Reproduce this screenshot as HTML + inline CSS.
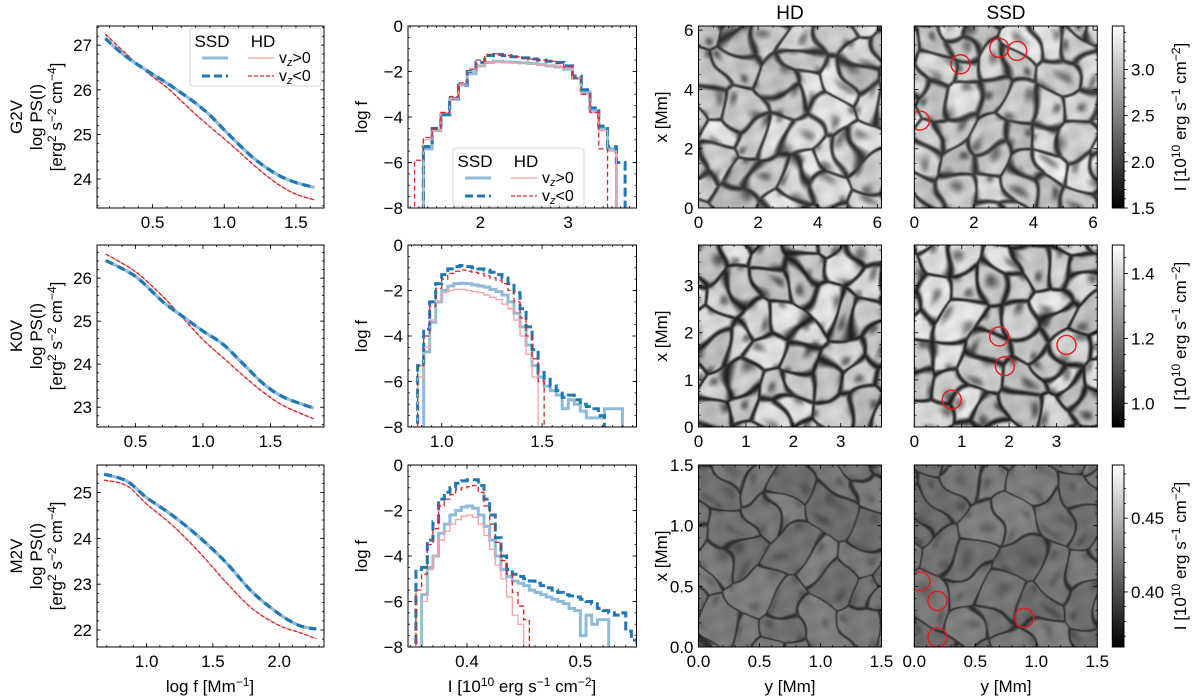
<!DOCTYPE html>
<html><head><meta charset="utf-8">
<style>
html,body{margin:0;padding:0;background:#fff;width:1200px;height:700px;overflow:hidden}
#fig{position:absolute;left:0;top:0}
canvas{position:absolute}
text{font-family:"Liberation Sans","DejaVu Sans",sans-serif;fill:#000}
</style></head>
<body>
<div id="wrap" style="position:relative;width:1200px;height:700px">
<svg id="fig" width="1200" height="700" xmlns="http://www.w3.org/2000/svg"></svg>
</div>
<script>
// ---------- Power spectra data ----------
const psG2X   = [0.17,0.3,0.45,0.6,0.7,0.8,0.9,1.0,1.1,1.2,1.3,1.4,1.5,1.63];
const psG2Ssd = [27.15,26.78,26.45,26.15,25.93,25.7,25.43,25.1,24.78,24.48,24.24,24.05,23.92,23.81];
const psG2Hd  = [27.25,26.85,26.42,26.05,25.75,25.45,25.17,24.9,24.62,24.33,24.06,23.83,23.66,23.53];
const psK0X   = [0.28,0.5,0.7,0.85,1.0,1.15,1.3,1.45,1.6,1.82];
const psK0Ssd = [26.41,26.04,25.46,25.11,24.77,24.46,24.0,23.54,23.23,22.98];
const psK0Hd  = [26.56,26.15,25.58,25.08,24.57,24.15,23.73,23.34,23.03,22.73];
const psM2X   = [0.68,0.85,1.0,1.2,1.4,1.6,1.8,2.0,2.15,2.28];
const psM2Ssd = [25.40,25.25,24.89,24.49,24.02,23.47,22.82,22.35,22.10,22.02];
const psM2Hd  = [25.27,25.15,24.75,24.27,23.69,23.04,22.46,22.10,21.95,21.81];

// ---------- Histogram data (bin start, bin width, log f per bin) ----------
const hG2Start = 1.25, hG2Width = 0.1;
const hG2SsdNeg = [-9,-5.3,-4.5,-3.9,-3.2,-2.6,-2.0,-1.6,-1.3,-1.25,-1.3,-1.35,-1.4,-1.45,-1.5,-1.55,-1.6,-1.75,-2.2,-2.8,-3.6,-4.4,-5.3,-6.0];
const hG2SsdPos = [-9,-5.4,-4.6,-3.9,-3.2,-2.6,-2.1,-1.75,-1.6,-1.55,-1.58,-1.6,-1.62,-1.65,-1.7,-1.75,-1.8,-1.9,-2.3,-2.9,-3.7,-4.5,-5.4,-9];
const hG2HdNeg  = [-5.9,-4.9,-4.5,-3.8,-3.1,-2.5,-1.9,-1.5,-1.25,-1.22,-1.3,-1.35,-1.4,-1.45,-1.5,-1.55,-1.65,-1.8,-2.3,-3.0,-3.8,-5.4,-9,-9];
const hG2HdPos  = [-9,-5.0,-4.6,-3.8,-3.2,-2.6,-2.0,-1.75,-1.6,-1.58,-1.6,-1.62,-1.64,-1.66,-1.7,-1.75,-1.8,-1.9,-2.3,-3.0,-3.8,-4.6,-5.5,-9];
const hK0Start = 0.88, hK0Width = 0.03;
const hK0SsdNeg = [-5.3,-3.7,-2.5,-1.7,-1.3,-1.05,-0.95,-0.9,-0.95,-1.0,-1.05,-1.1,-1.2,-1.3,-1.45,-1.7,-2.1,-2.8,-3.6,-4.6,-5.6,-5.9,-6.2,-6.4,-6.7,-6.6,-6.8,-7.0,-7.1,-7.2,-7.5,-9];
const hK0SsdPos = [-9,-4.7,-3.4,-2.5,-2.0,-1.8,-1.7,-1.68,-1.7,-1.75,-1.8,-1.85,-1.95,-2.05,-2.2,-2.5,-3.0,-3.6,-4.4,-5.3,-5.8,-6.2,-6.4,-6.6,-7.2,-6.8,-7.0,-7.3,-7.6,-7.6,-7.6,-7.2,-7.2,-7.2,-9];
const hK0HdNeg  = [-5.3,-4.0,-2.7,-1.9,-1.5,-1.25,-1.15,-1.1,-1.15,-1.2,-1.25,-1.35,-1.45,-1.55,-1.7,-2.0,-2.5,-3.2,-4.0,-5.0,-6.0,-9];
const hK0HdPos  = [-5.8,-4.5,-3.3,-2.5,-2.1,-2.0,-1.95,-1.95,-2.0,-2.05,-2.1,-2.2,-2.3,-2.4,-2.6,-2.8,-3.3,-4.0,-4.8,-5.8,-9];
const hM2Start = 0.355, hM2Width = 0.005;
const hM2SsdNeg = [-4.6,-4.5,-3.3,-2.5,-1.5,-1.2,-1.0,-0.8,-0.7,-0.65,-0.65,-0.9,-1.5,-2.2,-3.2,-4.0,-4.6,-4.8,-4.9,-5.0,-5.1,-5.2,-5.3,-5.4,-5.5,-5.6,-5.7,-5.75,-5.8,-5.9,-6.0,-6.1,-6.3,-6.4,-6.5,-6.6,-6.5,-7.3,-7.7,-9];
const hM2SsdPos = [-9,-5.7,-4.5,-4.0,-3.0,-2.6,-2.2,-2.0,-1.85,-1.8,-1.9,-2.2,-2.7,-3.3,-4.0,-4.6,-4.9,-5.1,-5.2,-5.3,-5.5,-5.6,-5.7,-5.8,-5.9,-6.0,-6.1,-6.3,-6.4,-7.5,-6.6,-7.0,-6.8,-6.8,-9];
const hM2HdNeg  = [-5.5,-4.8,-3.5,-2.8,-1.8,-1.5,-1.3,-1.1,-1.0,-0.95,-0.9,-1.2,-1.8,-2.6,-3.4,-4.2,-4.8,-5.6,-6.2,-6.8,-9];
const hM2HdPos  = [-9,-6.0,-4.6,-4.0,-3.3,-2.9,-2.6,-2.4,-2.25,-2.2,-2.3,-2.6,-3.1,-3.7,-4.4,-5.0,-5.8,-6.6,-7.0,-9];

// ---------- Bright-point markers (y, x in Mm) ----------
const bpG2Y = [1.55,2.85,3.45,0.19], bpG2X = [4.85,5.4,5.3,2.95];
const bpK0Y = [1.79,1.91,3.21,0.79], bpK0X = [1.92,1.29,1.74,0.58];
const bpM2Y = [0.05,0.19,0.19,0.90], bpM2X = [0.54,0.38,0.08,0.24];

const svg = document.getElementById('fig');
const NS = 'http://www.w3.org/2000/svg';
const FS = 17;
function mk(tag, attrs, parent){ const e=document.createElementNS(NS,tag); for(const k in attrs) e.setAttribute(k,attrs[k]); (parent||svg).appendChild(e); return e; }
function txt(s, x, y, opts, parent){
  const t = mk('text', Object.assign({x:x,y:y,'font-size':FS,'text-anchor':'middle'}, opts||{}), parent);
  t.innerHTML = s; return t;
}
const rowsTop = [26,245,465], H = 182;
const C1 = {x:97,w:227}, C2 = {x:408,w:228.5}, C3 = {x:698.5,w:183}, C4 = {x:914.3,w:183}, CB = {x:1112.3,w:11.7};
let clipN = 0;

function makeAxes(name, px, py, w, h, xr, yr, o){
  const g = mk('g',{});
  
  
  const sx = v => px + (v - xr[0])/(xr[1]-xr[0])*w;
  const sy = v => py + h - (v - yr[0])/(yr[1]-yr[0])*h;
  const id = 'clip'+(clipN++);
  const cp = mk('clipPath',{id:id},g); mk('rect',{x:px,y:py,width:w,height:h},cp);
  const plot = mk('g',{'clip-path':'url(#'+id+')'},g);
  return {g, plot, sx, sy, px, py, w, h, xr, yr, o};
}
function finishAxes(A){
  const {g,sx,sy,px,py,w,h,xr,yr,o} = A;
  const tk = mk('g',{stroke:'#000','stroke-width':0.8},g);
  function ticks(vals, len, isX){
    vals.forEach(v=>{
      if(isX){ const x=sx(v); if(x<px-0.1||x>px+w+0.1) return;
        mk('line',{x1:x,y1:py+h,x2:x,y2:py+h-len},tk); mk('line',{x1:x,y1:py,x2:x,y2:py+len},tk); }
      else { const y=sy(v); if(y<py-0.1||y>py+h+0.1) return;
        mk('line',{x1:px,y1:y,x2:px+len,y2:y},tk); mk('line',{x1:px+w,y1:y,x2:px+w-len,y2:y},tk); }
    });
  }
  const rng=(a,b,s)=>{const r=[];for(let v=a;v<=b+1e-9;v+=s)r.push(+v.toFixed(6));return r;};
  ticks(rng(Math.ceil(xr[0]/o.xmin)*o.xmin, xr[1], o.xmin), 2, true);
  ticks(rng(Math.ceil(yr[0]/o.ymin)*o.ymin, yr[1], o.ymin), 2, false);
  ticks(o.xt, 4, true); ticks(o.yt, 4, false);
  mk('rect',{x:px,y:py,width:w,height:h,fill:'none',stroke:'#000','stroke-width':1},g);
  if(o.xl) o.xt.forEach((v,i)=>{ const t=txt(o.xl[i], sx(v), py+h+20, {}, g);
      });
  if(o.yl) o.yt.forEach((v,i)=>{ const t=txt(o.yl[i], px-5, sy(v)+6, {'text-anchor':'end'}, g);
      });
}
function smoothPath(A, xs, ys){
  const P = xs.map((x,i)=>[A.sx(x),A.sy(ys[i])]);
  let d = 'M'+P[0][0]+','+P[0][1];
  for(let i=0;i<P.length-1;i++){
    const p0=P[Math.max(0,i-1)],p1=P[i],p2=P[i+1],p3=P[Math.min(P.length-1,i+2)];
    const c1=[p1[0]+(p2[0]-p0[0])/6,p1[1]+(p2[1]-p0[1])/6], c2=[p2[0]-(p3[0]-p1[0])/6,p2[1]-(p3[1]-p1[1])/6];
    d+=' C'+c1+' '+c2+' '+p2;
  }
  return d;
}
function psPanel(r, xs, ssd, hd, xr, yr, xt, yt){
  const A = makeAxes('power-spectrum-panel-'+r, C1.x, rowsTop[r], C1.w, H, xr, yr, {xt, xl:xt.map(v=>v.toFixed(1)), yt, yl:yt.map(String), xmin:0.1, ymin:0.2});
  const dh = smoothPath(A, xs, hd), ds = smoothPath(A, xs, ssd);
  let e;
  e = mk('path',{d:dh,fill:'none',stroke:'#f4a3a3','stroke-width':1.3},A.plot);
   
  e = mk('path',{d:dh,fill:'none',stroke:'#d62728','stroke-width':1.3,'stroke-dasharray':'4,2'},A.plot);
   
  e = mk('path',{d:ds,fill:'none',stroke:'#8fbbd9','stroke-width':3.2},A.plot);
   
  e = mk('path',{d:ds,fill:'none',stroke:'#1f77b4','stroke-width':3.2,'stroke-dasharray':'8,5'},A.plot);
   
  finishAxes(A);
  return A;
}
function stepPath(A, start, width, vals){
  let d = 'M'+A.sx(start)+','+A.sy(-9);
  vals.forEach((v,i)=>{ d+=' L'+A.sx(start+i*width)+','+A.sy(v)+' L'+A.sx(start+(i+1)*width)+','+A.sy(v); });
  d += ' L'+A.sx(start+vals.length*width)+','+A.sy(-9);
  return d;
}
function histPanel(r, start, width, sNeg, sPos, hNeg, hPos, xr, xt, xl){
  const yt=[0,-2,-4,-6,-8];
  const A = makeAxes('histogram-panel-'+r, C2.x, rowsTop[r], C2.w, H, xr, [-8,0], {xt, xl, yt, yl:yt.map(v=>v<0?'\u2212'+(-v):'0'), xmin:(xr[1]-xr[0])/12>0.1?0.1:(width>0.02?0.05:0.01), ymin:0.5});
  let e;
  e = mk('path',{d:stepPath(A,start,width,sPos),fill:'none',stroke:'#8fbbd9','stroke-width':3},A.plot);
   
  e = mk('path',{d:stepPath(A,start,width,sNeg),fill:'none',stroke:'#1f77b4','stroke-width':3,'stroke-dasharray':'9,4'},A.plot);
   
  e = mk('path',{d:stepPath(A,start,width,hPos),fill:'none',stroke:'#f4a3a3','stroke-width':1.3},A.plot);
   
  e = mk('path',{d:stepPath(A,start,width,hNeg),fill:'none',stroke:'#d62728','stroke-width':1.3,'stroke-dasharray':'5,3'},A.plot);
   
  finishAxes(A);
  return A;
}
function legend(x,y,name){
  const g = mk('g',{});
  
  
  mk('rect',{x:x,y:y,width:131,height:58,fill:'#fff','fill-opacity':0.85,stroke:'#ccc','stroke-width':0.8,rx:3},g);
  txt('SSD', x+22, y+19, {'font-size':17}, g);
  txt('HD', x+73, y+19, {'font-size':17}, g);
  mk('line',{x1:x+12,y1:y+30,x2:x+38,y2:y+30,stroke:'#8fbbd9','stroke-width':3},g);
  mk('line',{x1:x+12,y1:y+48,x2:x+38,y2:y+48,stroke:'#1f77b4','stroke-width':3,'stroke-dasharray':'8,4'},g);
  mk('line',{x1:x+58,y1:y+30,x2:x+84,y2:y+30,stroke:'#f4a3a3','stroke-width':1.3},g);
  mk('line',{x1:x+58,y1:y+48,x2:x+84,y2:y+48,stroke:'#d62728','stroke-width':1.3,'stroke-dasharray':'4,2'},g);
  txt('v<tspan font-style="italic" font-size="11" dy="3">z</tspan><tspan dy="-3">&gt;0</tspan>', x+89, y+35, {'text-anchor':'start','font-size':16}, g);
  txt('v<tspan font-style="italic" font-size="11" dy="3">z</tspan><tspan dy="-3">&lt;0</tspan>', x+89, y+53, {'text-anchor':'start','font-size':16}, g);
}

// Power spectrum panels
psPanel(0, psG2X, psG2Ssd, psG2Hd, [0.112,1.696], [23.35,27.43], [0.5,1.0,1.5], [24,25,26,27]);
psPanel(1, psK0X, psK0Ssd, psK0Hd, [0.215,1.897], [22.54,26.77], [0.5,1.0,1.5], [23,24,25,26]);
psPanel(2, psM2X, psM2Ssd, psM2Hd, [0.626,2.338], [21.63,25.6], [1.0,1.5,2.0], [22,23,24,25]);
legend(190,28,'legend-power-spectrum');

// Histogram panels
histPanel(0, hG2Start, hG2Width, hG2SsdNeg, hG2SsdPos, hG2HdNeg, hG2HdPos, [1.175,3.78], [2,3], ['2','3']);
histPanel(1, hK0Start, hK0Width, hK0SsdNeg, hK0SsdPos, hK0HdNeg, hK0HdPos, [0.832,1.97], [1.0,1.5], ['1.0','1.5']);
histPanel(2, hM2Start, hM2Width, hM2SsdNeg, hM2SsdPos, hM2HdNeg, hM2HdPos, [0.348,0.5495], [0.4,0.5], ['0.4','0.5']);
legend(453,148,'legend-histogram');

// Axis labels
const stars = ['G2V','K0V','M2V'];
stars.forEach((s,r)=>{
  const cy = rowsTop[r]+H/2;
  let t = txt(s, 0, 0, {transform:'translate(22,'+cy+') rotate(-90)'});
   
  t = txt('log PS(I)', 0, 0, {transform:'translate(42,'+cy+') rotate(-90)'});
   
  t = txt('[erg<tspan font-size="12" dy="-6">2</tspan><tspan dy="6"> s</tspan><tspan font-size="12" dy="-6">\u22122</tspan><tspan dy="6"> cm</tspan><tspan font-size="12" dy="-6">\u22124</tspan><tspan dy="6">]</tspan>', 0, 0, {transform:'translate(62,'+cy+') rotate(-90)'});
   
  t = txt('log f', 0, 0, {transform:'translate(367,'+cy+') rotate(-90)'});
   
  t = txt('x [Mm]', 0, 0, {transform:'translate(667,'+cy+') rotate(-90)'});
   
  t = txt('I [10<tspan font-size="12" dy="-6">10</tspan><tspan dy="6"> erg s</tspan><tspan font-size="12" dy="-6">\u22121</tspan><tspan dy="6"> cm</tspan><tspan font-size="12" dy="-6">\u22122</tspan><tspan dy="6">]</tspan>', 0, 0, {transform:'translate(1186,'+cy+') rotate(-90)'});
   
});
let tt = txt('log f [Mm<tspan font-size="12" dy="-6">\u22121</tspan><tspan dy="6">]</tspan>', 210, 692, {});
 
tt = txt('I [10<tspan font-size="12" dy="-6">10</tspan><tspan dy="6"> erg s</tspan><tspan font-size="12" dy="-6">\u22121</tspan><tspan dy="6"> cm</tspan><tspan font-size="12" dy="-6">\u22122</tspan><tspan dy="6">]</tspan>', 522, 692, {});
 
tt = txt('y [Mm]', 790, 692, {});  
tt = txt('y [Mm]', 1006, 692, {});  
tt = txt('HD', 790, 19, {'font-size':19});  
tt = txt('SSD', 1006, 19, {'font-size':19});  

// ---------- Granulation images ----------
function rng(seed){ return function(){ seed|=0; seed=seed+0x6D2B79F5|0; let t=Math.imul(seed^seed>>>15,1|seed); t=t+Math.imul(t^t>>>7,61|t)^t; return ((t^t>>>14)>>>0)/4294967296; }; }
function granulation(x, y, w, h, seed, p, name){
  const c = document.createElement('canvas');
  c.width = Math.round(w); c.height = Math.round(h);
  c.style.left = x+'px'; c.style.top = y+'px'; c.style.width = w+'px'; c.style.height = h+'px';
  
  
  document.getElementById('wrap').insertBefore(c, svg);
  const ctx = c.getContext('2d'), W=c.width, Hh=c.height;
  const img = ctx.createImageData(W,Hh), R = rng(seed);
  const n = p.n, sd=[];
  const g = Math.ceil(Math.sqrt(n)), cell = W/g;
  for(let i=-1;i<=g;i++) for(let j=-1;j<=g;j++) sd.push([ (i+0.1+0.8*R())*cell, (j+0.1+0.8*R())*cell, R(), R()*6.28, R()*6.28 ]);
  const ph = [R()*6,R()*6,R()*6,R()*6];
  for(let yy=0;yy<Hh;yy++) for(let xx=0;xx<W;xx++){
    const wx = xx + p.warp*Math.sin(yy*0.045+ph[0]) + p.warp*0.7*Math.sin((xx+yy)*0.09+ph[1]);
    const wy = yy + p.warp*Math.sin(xx*0.05+ph[2]) + p.warp*0.7*Math.sin((xx-yy)*0.08+ph[3]);
    let d1=1e9,d2=1e9,k=0;
    for(let s=0;s<sd.length;s++){ const dx=wx-sd[s][0], dy=wy-sd[s][1]; const d=dx*dx+dy*dy;
      if(d<d1){d2=d1;d1=d;k=s;} else if(d<d2) d2=d; }
    d1=Math.sqrt(d1); d2=Math.sqrt(d2);
    const lane = Math.min(1,(d2-d1)/p.lw);
    const t = lane*lane*(3-2*lane);
    const cb = p.hi - p.var*sd[k][2];
    const s0 = sd[k];
    const dx = wx-s0[0], dy = wy-s0[1];
    const patch = Math.max(0, Math.sin(dx*0.18+s0[3])*Math.sin(dy*0.16+s0[4]));
    let v = p.lo + (cb - p.lo)*t - p.fall*patch*patch*t;
    v += p.tex*(Math.sin(xx*0.21+yy*0.13+s0[3])*Math.sin(yy*0.19-xx*0.07+s0[4]));
    v = Math.max(0,Math.min(255,v));
    const o=(yy*W+xx)*4; img.data[o]=img.data[o+1]=img.data[o+2]=v; img.data[o+3]=255;
  }
  ctx.putImageData(img,0,0);
}
const imgParams = [
  {n:30, warp:6, lw:7, lo:50, hi:230, var:50, fall:90, tex:10},
  {n:30, warp:5, lw:7, lo:35, hi:228, var:45, fall:100, tex:9},
  {n:20, warp:7, lw:4, lo:45, hi:128, var:22, fall:25, tex:6}
];
const imgRange = [[0,6.14],[0,3.86],[0,1.5]];
const imgTicks = [[0,2,4,6],[0,1,2,3],[0,0.5,1.0,1.5]];
const imgTickLabels = [['0','2','4','6'],['0','1','2','3'],['0.0','0.5','1.0','1.5']];
const imgMinor = [0.5,0.25,0.1];
const bps = [[bpG2Y,bpG2X],[bpK0Y,bpK0X],[bpM2Y,bpM2X]];
const cbRange = [[1.5,3.47],[0.927,1.488],[0.3627,0.486]];
const cbTicks = [[1.5,2.0,2.5,3.0],[1.0,1.2,1.4],[0.40,0.45]];
const cbTickLabels = [['1.5','2.0','2.5','3.0'],['1.0','1.2','1.4'],['0.40','0.45']];
const cbMinor = [0.1,0.05,0.01];
for(let r=0;r<3;r++){
  granulation(C3.x, rowsTop[r], C3.w, H, 11+r*7, imgParams[r], 'hd-intensity-image-'+stars[r].toLowerCase());
  granulation(C4.x, rowsTop[r], C4.w, H, 101+r*13, imgParams[r], 'ssd-intensity-image-'+stars[r].toLowerCase());
  const A3 = makeAxes('hd-image-axes-'+r, C3.x, rowsTop[r], C3.w, H, imgRange[r], imgRange[r], {xt:imgTicks[r], xl:imgTickLabels[r], yt:imgTicks[r], yl:imgTickLabels[r], xmin:imgMinor[r], ymin:imgMinor[r]});
  finishAxes(A3);
  const A4 = makeAxes('ssd-image-axes-'+r, C4.x, rowsTop[r], C4.w, H, imgRange[r], imgRange[r], {xt:imgTicks[r], xl:imgTickLabels[r], yt:imgTicks[r], yl:null, xmin:imgMinor[r], ymin:imgMinor[r]});
  const [ys,xs] = bps[r];
  ys.forEach((yv,i)=>{
    const c = mk('circle',{cx:A4.sx(yv),cy:A4.sy(xs[i]),r:9.5,fill:'none',stroke:'#e8191c','stroke-width':1.4},A4.plot);
    
    
  });
  finishAxes(A4);
  const cb = makeAxes('colorbar-'+r, CB.x, rowsTop[r], CB.w, H, [0,1], cbRange[r], {xt:[], yt:[], xmin:10, ymin:100});
  const gid='grad'+r; const lg=mk('linearGradient',{id:gid,x1:0,y1:1,x2:0,y2:0},cb.g);
  mk('stop',{offset:0,'stop-color':'#000'},lg); mk('stop',{offset:1,'stop-color':'#fff'},lg);
  mk('rect',{x:CB.x,y:rowsTop[r],width:CB.w,height:H,fill:'url(#'+gid+')'},cb.g);
  const tg = mk('g',{stroke:'#000','stroke-width':0.8},cb.g);
  for(let v=Math.ceil(cbRange[r][0]/cbMinor[r])*cbMinor[r]; v<=cbRange[r][1]; v+=cbMinor[r]) mk('line',{x1:CB.x+CB.w,y1:cb.sy(v),x2:CB.x+CB.w+2,y2:cb.sy(v)},tg);
  cbTicks[r].forEach((v,i)=>{ mk('line',{x1:CB.x+CB.w,y1:cb.sy(v),x2:CB.x+CB.w+4,y2:cb.sy(v)},tg);
    const t=txt(cbTickLabels[r][i], CB.x+CB.w+7, cb.sy(v)+6, {'text-anchor':'start'}, cb.g);
      });
  mk('rect',{x:CB.x,y:rowsTop[r],width:CB.w,height:H,fill:'none',stroke:'#000','stroke-width':1},cb.g);
}
</script>
</body></html>
